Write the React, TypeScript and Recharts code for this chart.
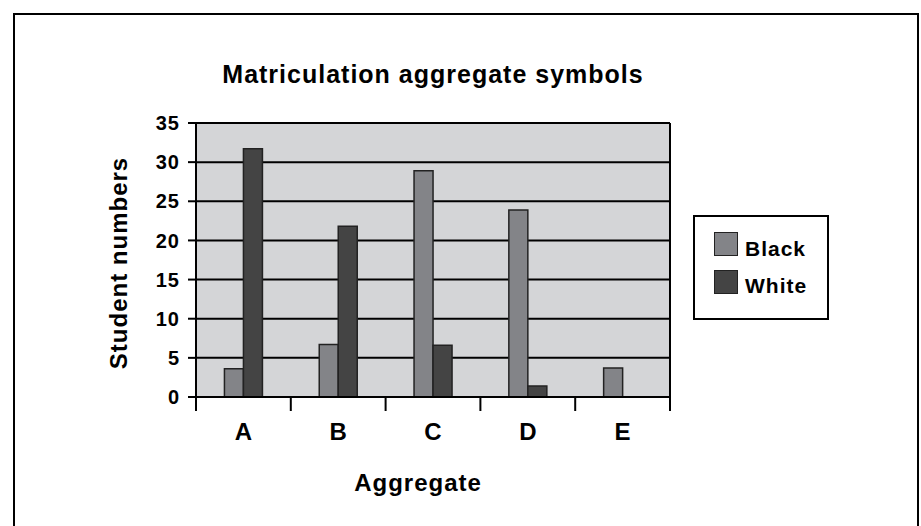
import React from 'react';
import { BarChart, Bar, XAxis, YAxis, CartesianGrid } from 'recharts';

const categories = ['A', 'B', 'C', 'D', 'E'];
const blackValues = [3.6, 6.7, 28.9, 23.9, 3.7];
const whiteValues = [31.7, 21.8, 6.6, 1.4, 0];
const yTicks = [0, 5, 10, 15, 20, 25, 30, 35];

const seriesInfo = [
  { key: 'black', name: 'Black', color: '#838488' },
  { key: 'white', name: 'White', color: '#444444' },
];

const data = categories.map((cat, i) => ({
  cat,
  black: blackValues[i],
  white: whiteValues[i],
}));

const FONT = '"Liberation Sans", Arial, Helvetica, sans-serif';
const W = 902;
const H = 511;

// label at the category centre, tick marks on the category boundaries
const CategoryTick = (props: any) => {
  const { x, y, payload, index, width, visibleTicksCount } = props;
  const count = visibleTicksCount || categories.length;
  const band = width / count;
  return (
    <g>
      <line x1={x - band / 2} y1={y} x2={x - band / 2} y2={y + 14} stroke="#000" strokeWidth={2} />
      {index === count - 1 && (
        <line x1={x + band / 2} y1={y} x2={x + band / 2} y2={y + 14} stroke="#000" strokeWidth={2} />
      )}
      <text x={x} y={y + 43} textAnchor="middle" fontFamily={FONT} fontSize={24} fontWeight={700} fill="#000">
        {payload.value}
      </text>
    </g>
  );
};

const App: React.FC = () => {
  const textBase: React.CSSProperties = {
    position: 'absolute',
    fontFamily: FONT,
    fontWeight: 700,
    color: '#000',
    whiteSpace: 'nowrap',
  };

  return (
    <div
      style={{
        position: 'absolute',
        left: 13,
        top: 13,
        width: W,
        height: H,
        borderTop: '2px solid #000',
        borderLeft: '2px solid #000',
        borderRight: '2px solid #000',
        background: '#fff',
      }}
    >
      <div style={{ ...textBase, left: 418, top: 47, fontSize: 25, lineHeight: '25px', letterSpacing: 1, transform: 'translateX(-50%)' }}>
        Matriculation aggregate symbols
      </div>
      <div style={{ ...textBase, left: 403, top: 456, fontSize: 24, lineHeight: '24px', letterSpacing: 1, transform: 'translateX(-50%)' }}>
        Aggregate
      </div>
      <div
        style={{
          ...textBase,
          left: 104,
          top: 248,
          fontSize: 24,
          lineHeight: '24px',
          letterSpacing: 1,
          transform: 'translate(-50%, -50%) rotate(-90deg)',
        }}
      >
        Student numbers
      </div>

      <BarChart
        width={W}
        height={H}
        data={data}
        margin={{ top: 108, right: 237, bottom: 69, left: 121 }}
        barGap={0}
        barCategoryGap="30%"
      >
        <CartesianGrid vertical={false} stroke="#000" strokeWidth={2} fill="#d4d5d7" fillOpacity={1} />
        <XAxis
          dataKey="cat"
          interval={0}
          height={60}
          tickSize={0}
          tickMargin={0}
          tickLine={false}
          axisLine={{ stroke: '#000', strokeWidth: 2 }}
          tick={CategoryTick}
        />
        <YAxis
          domain={[0, 35]}
          ticks={yTicks}
          interval={0}
          width={60}
          tickSize={8}
          tickMargin={8}
          axisLine={{ stroke: '#000', strokeWidth: 2 }}
          tickLine={{ stroke: '#000', strokeWidth: 2 }}
          tick={{ fill: '#000', fontSize: 20, fontWeight: 700, fontFamily: FONT, letterSpacing: 1 }}
        />
        <YAxis
          yAxisId="right"
          orientation="right"
          domain={[0, 35]}
          width={10}
          tick={false}
          tickLine={false}
          axisLine={{ stroke: '#000', strokeWidth: 2 }}
        />
        {seriesInfo.map((s) => (
          <Bar
            key={s.key}
            dataKey={s.key}
            name={s.name}
            fill={s.color}
            stroke="#222"
            strokeWidth={1.5}
            isAnimationActive={false}
          />
        ))}
      </BarChart>

      <div
        style={{
          position: 'absolute',
          left: 678,
          top: 200,
          width: 136,
          height: 105,
          boxSizing: 'border-box',
          border: '2px solid #000',
          background: '#fff',
        }}
      >
        {seriesInfo.map((s, i) => (
          <React.Fragment key={s.key}>
            <div
              style={{
                position: 'absolute',
                left: 19,
                top: 15 + i * 38,
                width: 24,
                height: 24,
                boxSizing: 'border-box',
                background: s.color,
                border: '1.5px solid #222',
              }}
            />
            <div style={{ ...textBase, left: 50, top: 21 + i * 37, fontSize: 21, lineHeight: '21px', letterSpacing: 1 }}>
              {s.name}
            </div>
          </React.Fragment>
        ))}
      </div>
    </div>
  );
};

export default App;
